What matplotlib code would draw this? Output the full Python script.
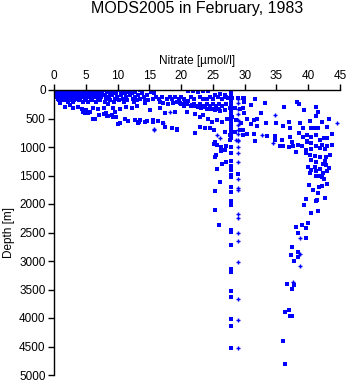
import matplotlib
matplotlib.use("Agg")
import matplotlib.pyplot as plt

plt.rcParams['font.family'] = ['Liberation Sans', 'DejaVu Sans']

# ---- surface blob: rows of nitrate values at fixed depths ----
blob_depths = [0, 30, 60, 90, 120, 150, 180, 210]
blob_rows = [
    [0.1, 0.4, 0.8, 1.2, 1.6, 2.0, 2.4, 2.8, 3.2, 3.6, 4.0, 4.4, 4.8, 5.2, 5.8, 6.5, 7.2, 8.0, 9.0, 10.2, 11.0, 12.5, 13.5],
    [0.2, 0.6, 1.0, 1.4, 1.9, 2.3, 2.7, 3.1, 3.5, 3.9, 4.3, 4.7, 5.1, 5.6, 6.2, 6.9, 7.6, 8.4, 9.4, 10.6, 11.6, 12.8, 15.2],
    [0.1, 0.5, 0.9, 1.3, 1.7, 2.1, 2.5, 2.9, 3.3, 3.7, 4.1, 4.5, 4.9, 5.4, 6.0, 6.7, 7.5, 8.8, 9.8, 11.2, 12.2, 13.8],
    [0.3, 0.7, 1.1, 1.5, 2.0, 2.4, 2.9, 3.4, 3.9, 4.4, 4.9, 5.5, 6.3, 7.1, 8.1, 9.2, 10.5, 11.9, 13.2, 14.6],
    [0.4, 0.9, 1.4, 1.9, 2.5, 3.0, 3.6, 4.2, 4.8, 5.6, 6.4, 7.4, 8.6, 9.9, 11.3, 12.7, 14.1],
    [0.6, 1.2, 1.8, 2.6, 3.4, 4.1, 5.0, 5.9, 7.0, 8.2, 9.6, 10.8, 12.4, 13.6],
    [0.8, 1.6, 2.4, 3.2, 4.0, 4.9, 6.0, 7.3, 8.8, 10.2, 11.5, 13.0],
    [1.0, 2.2, 3.0, 4.5, 5.4, 6.6, 8.0, 9.5, 11.0, 12.6],
]

# ---- mid-water band, x 15-27 ----
band_depths = [130, 160, 250, 280, 330]
band_rows = [
    [16.0, 17.0, 18.2, 19.0, 20.0, 21.5, 23.0, 24.6, 25.8, 27.0],
    [15.5, 16.5, 17.8, 18.6, 19.6, 20.4, 22.0, 23.4, 24.0, 25.0, 26.5],
    [20.0, 21.0, 22.0, 23.0, 24.0, 25.0, 26.0, 27.0],
    [20.5, 21.5, 22.5, 23.5, 24.5, 25.5, 26.5],
    [24.0, 25.0, 26.0],
]

# ---- shallow scatter, low nitrate ----
shallow_x = [0.9, 1.7, 2.5, 3.0, 3.8, 4.4, 5.1, 4.6, 5.7, 6.2, 7.0, 7.8, 8.5, 9.3, 10.4, 11.4, 12.2, 13.0, 14.3,
             6.5, 7.1, 7.9, 8.5, 9.1, 9.8, 10.1, 11.2, 11.7, 12.7, 13.3, 14.3,
             4.9, 5.4, 6.2, 8.2, 8.3, 9.3, 9.6, 10.4, 13.2, 13.5, 15.6, 17.2, 17.5, 19.3]
shallow_y = [235, 290, 265, 320, 290, 335, 350, 380, 380, 320, 335, 310, 250, 320, 335, 290, 310, 275, 235,
             510, 440, 425, 450, 440, 470, 600, 515, 545, 525, 570, 570,
             410, 400, 515, 405, 455, 470, 380, 580, 575, 525, 560, 580, 645, 700]

# ---- intermediate nitrate, upper 1000 m ----
mid_x = [15.4, 15.8, 21.1, 21.9, 22.7, 23.5, 24.2, 25.3, 26.1, 26.9, 27.4, 28.0, 29.0, 29.7,
         14.3, 14.8, 16.7, 17.2, 18.0, 18.8, 19.3, 19.8, 20.6, 21.1, 21.7, 22.2, 22.7, 23.2, 23.8, 24.5, 25.3, 26.1, 26.9, 27.7, 28.5, 29.3,
         15.1, 16.7, 17.5, 19.0, 20.9, 22.2, 23.0, 23.5, 24.3, 24.8, 25.6, 26.4, 27.2, 28.0, 28.7, 29.5,
         14.6, 15.6, 16.4, 17.5, 18.5, 19.4, 22.2, 23.0, 23.8, 24.5, 25.1, 25.3, 26.9, 27.7, 28.5, 29.3, 27.7]
mid_y = [15, 60, 15, 15, 30, 15, 15, 90, 75, 90, 135, 145, 145, 145,
         190, 175, 205, 235, 250, 235, 215, 235, 205, 190, 265, 275, 290, 310, 290, 335, 350, 370, 350, 320, 310, 335,
         350, 320, 410, 390, 380, 425, 470, 440, 500, 555, 525, 555, 500, 470, 525, 585,
         545, 525, 545, 645, 660, 690, 750, 645, 670, 660, 700, 920, 730, 790, 730, 700, 875]

# ---- high nitrate, upper 1000 m ----
high_x = [29.9, 29.9, 29.7, 29.9, 31.7, 31.0, 33.2, 36.2, 38.2, 38.6, 39.4, 41.3, 41.5, 41.2, 43.2, 40.3, 42.2, 43.0,
          32.5, 31.4, 32.0, 30.3, 31.0, 31.9, 33.4, 34.9, 36.1, 37.0, 37.1, 38.7, 39.2, 40.4, 41.1, 41.6,
          30.3, 31.4, 33.5, 34.7, 34.8, 35.8, 37.1, 37.4, 38.6, 39.2, 39.8, 40.5, 41.2, 41.9, 42.5, 43.0, 43.7, 39.8, 29.8, 29.7]
high_y = [145, 215, 320, 410, 160, 265, 235, 290, 205, 250, 350, 300, 380, 455, 500, 545, 555, 655,
          410, 525, 500, 500, 600, 625, 585, 585, 625, 570, 670, 585, 660, 670, 670, 660,
          780, 780, 800, 800, 875, 875, 820, 905, 760, 820, 790, 830, 790, 875, 850, 835, 775, 905, 700, 790]

# ---- high nitrate, 900-2200 m ----
deep_x = [31.6, 35.6, 36.1, 37.0, 37.6, 38.4, 39.0, 39.8, 40.5, 41.3, 42.1, 42.9, 43.8, 39.6, 40.5,
          41.9, 42.6, 43.4, 38.0, 39.6, 40.3, 41.1, 41.9, 42.8, 40.4, 41.3, 42.6, 42.4, 42.8, 41.1,
          40.0, 40.5, 40.3, 41.2, 41.9, 42.4, 43.0, 43.2, 41.2, 41.7, 42.1, 42.5, 40.2, 42.1, 42.9,
          40.7, 41.7, 41.6, 42.7, 39.6, 41.2, 41.4, 39.4, 40.4, 41.6]
deep_y = [900, 980, 980, 995, 980, 970, 980, 900, 935, 980, 960, 980, 960, 1050, 1030,
          1020, 1040, 1140, 1090, 1110, 1135, 1160, 1170, 1180, 1230, 1255, 1240, 1300, 1315, 1345,
          1355, 1405, 1460, 1415, 1390, 1460, 1415, 1375, 1510, 1510, 1530, 1565, 1665, 1685, 1650,
          1755, 1710, 1815, 1895, 1920, 1955, 1930, 2020, 2150, 2130]

# ---- abyssal, high nitrate ----
abyss_x = [40.0, 39.6, 39.0, 38.1, 38.4, 39.7, 37.4, 38.4, 37.3, 38.4, 37.8, 36.7, 37.7, 37.4,
           36.4, 37.0, 37.2, 37.5, 36.1, 36.4, 40.0]
abyss_y = [2330, 2415, 2375, 2400, 2515, 2600, 2760, 2850, 2900, 2935, 3000, 3400, 3425, 3490,
           3900, 3855, 3960, 3960, 4410, 4810, 2340]

# ---- station profile near 28 umol/l ----
prof_x = [27.9] * 35 + [25.2, 25.6, 26.3, 27.0, 26.9, 26.2, 25.5, 25.4, 27.0, 26.4, 25.7, 26.1, 25.4, 25.4, 25.9, 28.9]
prof_y = [60, 120, 180, 240, 300, 360, 420, 480, 540, 600, 660, 720, 780, 850,
          1005, 1110, 1240, 1335, 1400, 1490, 1520, 1700, 1795, 1950, 2010, 2455, 2495,
          2720, 3145, 3190, 3530, 3630, 4020, 4135, 4530,
          955, 970, 1005, 980, 1050, 1075, 1140, 1170, 1270, 1305, 1390, 1620, 1770, 2100, 2360, 1470]

# ---- second cast (plus markers) ----
plus_x = [28.9] * 24 + [18.3, 17.2, 15.8, 25.6, 26.1, 28.7, 44.6, 34.7, 32.7, 34.5, 15.7,
                        38.7, 38.7, 38.7, 37.6]
plus_y = [150, 230, 330, 420, 520, 620, 700, 780, 870,
          900, 1005, 1110, 1270, 1570, 1725, 1760, 2175, 2250, 2515,
          2655, 3020, 3670, 4040, 4530,
          390, 585, 690, 790, 850, 875, 585, 440, 790, 935, 700,
          2600, 2880, 3090, 3375]

x_ticks = [0, 5, 10, 15, 20, 25, 30, 35, 40, 45]
y_ticks = [0, 500, 1000, 1500, 2000, 2500, 3000, 3500, 4000, 4500, 5000]

sq_x, sq_y = [], []
for d, row in zip(blob_depths + band_depths, blob_rows + band_rows):
    sq_x += row
    sq_y += [d] * len(row)
for gx, gy in [(shallow_x, shallow_y), (mid_x, mid_y), (high_x, high_y),
               (deep_x, deep_y), (abyss_x, abyss_y), (prof_x, prof_y)]:
    sq_x += gx
    sq_y += gy

fig = plt.figure(figsize=(3.48, 3.84), dpi=100)
ax = fig.add_axes([54 / 348, 1 - 375 / 384, 286 / 348, 285 / 384])

blue = (0, 0, 1)
ax.plot(sq_x, sq_y, linestyle='none', marker='s', markersize=2.4,
        markerfacecolor=blue, markeredgewidth=0, antialiased=False)
ax.plot(plus_x, plus_y, linestyle='none', marker='+', markersize=3.0,
        markeredgecolor=blue, markeredgewidth=1.0, antialiased=False)

ax.set_xlim(0, 45)
ax.set_ylim(5000, 0)
ax.set_xticks(x_ticks)
ax.set_yticks(y_ticks)
ax.xaxis.tick_top()
ax.xaxis.set_label_position('top')
for s in ['right', 'bottom']:
    ax.spines[s].set_visible(False)
for s in ['left', 'top']:
    ax.spines[s].set_linewidth(1.0)
ax.tick_params(direction='out', length=4, width=1.0, labelsize=8.5, pad=2)
ax.set_xlabel('Nitrate [µmol/l]', fontsize=8.5, labelpad=4)
ax.set_ylabel('Depth [m]', fontsize=8.5, labelpad=3)

fig.text((54 + 340) / 2 / 348, 1 - 9 / 384, 'MODS2005 in February, 1983',
         ha='center', va='center', fontsize=11.5)

fig.savefig('out.png', dpi=100)
